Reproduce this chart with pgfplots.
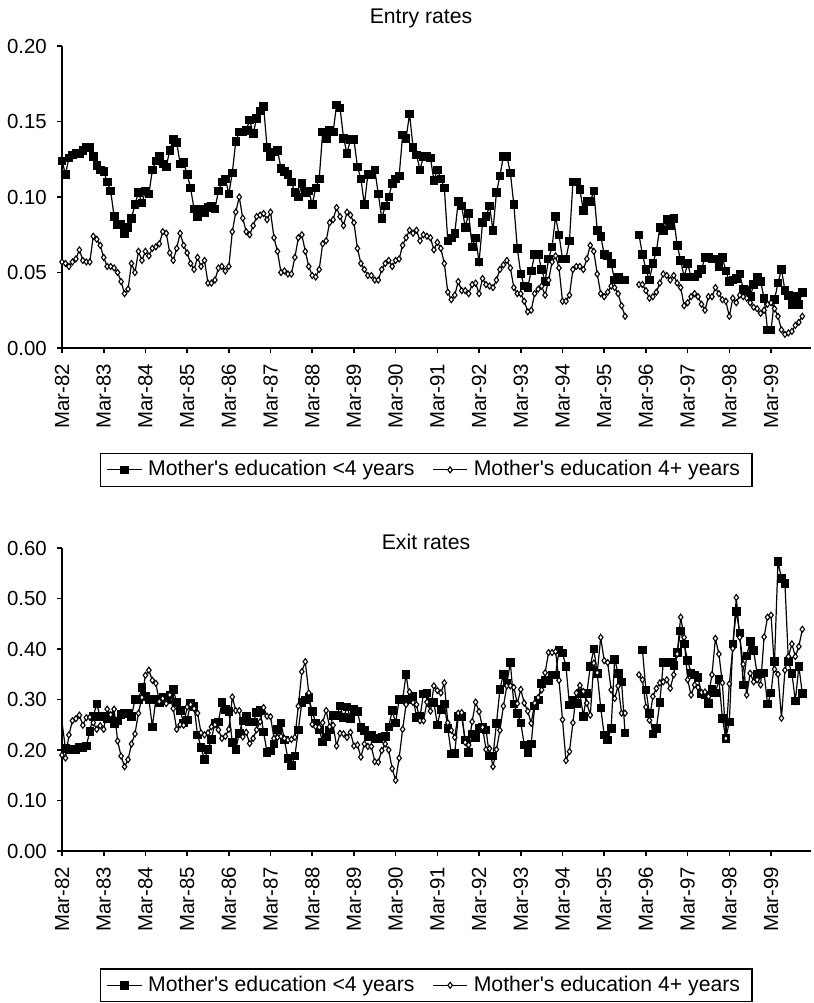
\documentclass[border=0pt]{standalone}
\usepackage{fontspec}
\setmainfont{Liberation Sans}
\usepackage{pgfplots}
\usepackage{pgfplotstable}
\pgfplotsset{compat=1.18}

% Monthly rates, Mar-82 (m = 0) to Dec-99 (m = 213)
% elo/ehi: entry rates, xlo/xhi: exit rates; lo = mother's education <4 years, hi = 4+ years
\pgfplotstableread{
m elo ehi xlo xhi
0 .124 .057 .255 .190
1 .115 .056 .203 .184
2 .126 .054 .200 .230
3 .128 .057 .201 .258
4 .129 .059 .201 .262
5 .129 .065 .205 .269
6 .131 .058 .205 .249
7 .133 .057 .208 .264
8 .133 .057 .237 .265
9 .127 .074 .267 .254
10 .121 .072 .291 .241
11 .118 .068 .266 .248
12 .117 .060 .267 .241
13 .110 .054 .263 .281
14 .104 .054 .267 .270
15 .087 .053 .252 .281
16 .082 .050 .258 .218
17 .082 .044 .271 .188
18 .076 .036 .273 .167
19 .080 .039 .273 .181
20 .086 .056 .267 .212
21 .095 .050 .300 .232
22 .103 .064 .300 .273
23 .096 .058 .324 .304
24 .104 .064 .306 .348
25 .102 .061 .300 .358
26 .118 .066 .246 .338
27 .124 .067 .300 .332
28 .127 .069 .294 .296
29 .122 .077 .304 .302
30 .120 .076 .299 .292
31 .131 .063 .309 .309
32 .138 .058 .320 .282
33 .136 .066 .294 .241
34 .122 .076 .278 .250
35 .123 .068 .254 .249
36 .115 .063 .260 .285
37 .106 .056 .292 .290
38 .092 .052 .286 .282
39 .087 .060 .230 .273
40 .092 .054 .205 .234
41 .090 .058 .181 .230
42 .093 .043 .201 .234
43 .094 .043 .221 .246
44 .092 .045 .254 .250
45 .104 .053 .256 .240
46 .110 .054 .294 .223
47 .112 .051 .281 .227
48 .102 .054 .276 .241
49 .116 .077 .215 .305
50 .137 .090 .201 .278
51 .143 .100 .233 .278
52 .143 .086 .258 .226
53 .144 .077 .267 .235
54 .151 .075 .256 .213
55 .142 .081 .256 .223
56 .152 .087 .274 .240
57 .157 .088 .278 .256
58 .160 .089 .236 .284
59 .133 .085 .195 .267
60 .127 .090 .198 .266
61 .130 .073 .212 .223
62 .131 .064 .241 .225
63 .119 .050 .254 .227
64 .117 .051 .220 .223
65 .115 .049 .183 .220
66 .110 .049 .170 .221
67 .103 .060 .188 .225
68 .100 .073 .240 .287
69 .109 .075 .294 .355
70 .103 .064 .299 .375
71 .104 .054 .304 .313
72 .095 .048 .276 .251
73 .106 .047 .254 .246
74 .112 .052 .240 .245
75 .143 .069 .216 .254
76 .139 .071 .226 .278
77 .144 .083 .240 .246
78 .143 .085 .269 .249
79 .161 .093 .269 .208
80 .159 .087 .287 .233
81 .139 .081 .264 .232
82 .129 .090 .285 .225
83 .138 .088 .263 .235
84 .138 .083 .281 .208
85 .120 .066 .276 .210
86 .112 .056 .245 .186
87 .095 .052 .239 .212
88 .115 .048 .227 .207
89 .115 .048 .229 .207
90 .118 .045 .223 .177
91 .102 .045 .223 .176
92 .086 .052 .226 .199
93 .094 .056 .227 .212
94 .100 .058 .246 .200
95 .109 .054 .278 .163
96 .112 .058 .254 .140
97 .114 .059 .300 .184
98 .141 .068 .300 .241
99 .139 .073 .350 .290
100 .155 .078 .300 .315
101 .133 .076 .306 .294
102 .128 .078 .264 .290
103 .118 .071 .266 .258
104 .127 .075 .311 .258
105 .127 .074 .313 .295
106 .126 .073 .294 .277
107 .111 .065 .294 .327
108 .118 .070 .250 .318
109 .112 .066 .281 .313
110 .106 .056 .291 .333
111 .071 .037 .243 .254
112 .073 .032 .192 .239
113 .076 .035 .193 .225
114 .097 .044 .266 .273
115 .094 .038 .266 .274
116 .080 .038 .220 .215
117 .089 .036 .195 .210
118 .067 .042 .232 .256
119 .073 .043 .225 .295
120 .057 .036 .243 .276
121 .083 .046 .246 .245
122 .087 .042 .240 .201
123 .094 .041 .188 .203
124 .078 .040 .188 .167
125 .103 .045 .253 .201
126 .114 .052 .320 .239
127 .127 .055 .350 .287
128 .127 .058 .333 .327
129 .116 .053 .373 .327
130 .095 .040 .291 .324
131 .066 .036 .273 .292
132 .049 .036 .254 .320
133 .041 .031 .210 .293
134 .040 .024 .195 .277
135 .051 .025 .212 .253
136 .062 .036 .287 .293
137 .062 .039 .299 .304
138 .052 .041 .332 .319
139 .044 .035 .338 .353
140 .059 .045 .338 .393
141 .067 .057 .349 .393
142 .087 .061 .349 .395
143 .075 .053 .398 .338
144 .059 .031 .392 .260
145 .059 .031 .366 .179
146 .071 .035 .289 .197
147 .110 .052 .299 .254
148 .110 .054 .292 .313
149 .105 .054 .312 .328
150 .091 .052 .267 .316
151 .097 .059 .312 .293
152 .097 .068 .366 .269
153 .104 .064 .400 .372
154 .078 .049 .352 .353
155 .074 .036 .283 .423
156 .062 .034 .230 .377
157 .061 .037 .220 .373
158 .056 .041 .243 .319
159 .045 .040 .380 .302
160 .047 .036 .352 .327
161 .045 .028 .335 .273
162 .045 .021 .234 .273
163 nan nan nan nan
164 nan nan nan nan
165 nan nan nan nan
166 .075 .042 .397 .349
167 .062 .042 .398 .339
168 .052 .038 .319 .285
169 .045 .033 .273 .259
170 .056 .034 .232 .306
171 .064 .037 .243 .322
172 .080 .043 .294 .333
173 .078 .049 .373 .335
174 .085 .048 .373 .339
175 .081 .045 .373 .322
176 .086 .048 .368 .349
177 .068 .043 .393 .390
178 .058 .040 .436 .463
179 .047 .028 .410 .423
180 .056 .030 .377 .339
181 .047 .034 .353 .309
182 .047 .036 .349 .329
183 .049 .034 .344 .324
184 .052 .029 .311 .314
185 .060 .025 .309 .315
186 .060 .034 .292 .306
187 .059 .034 .320 .349
188 .059 .040 .313 .421
189 .054 .036 .340 .390
190 .060 .032 .263 .333
191 .051 .031 .223 .223
192 .044 .021 .256 .331
193 .045 .033 .410 .401
194 .046 .030 .474 .502
195 .049 .035 .432 .423
196 .039 .034 .329 .370
197 .038 .033 .386 .309
198 .034 .030 .415 .352
199 .042 .027 .397 .335
200 .047 .026 .350 .339
201 .044 .023 .352 .329
202 .033 .025 .353 .424
203 .012 .029 .291 .463
204 .012 .030 .313 .467
205 .032 .026 .375 .360
206 .043 .021 .573 .350
207 .052 .012 .540 .263
208 .038 .009 .530 .358
209 .035 .010 .375 .385
210 .029 .011 .352 .410
211 .034 .015 .297 .385
212 .029 .017 .366 .405
213 .037 .021 .312 .439
}\rates

\newcommand{\tickfont}{\fontsize{10.2}{12.2}\selectfont}
\newcommand{\legfont}{\fontsize{10.6}{12.7}\selectfont}

\pgfplotsset{
  ratepanel/.style={
    scale only axis,
    width=374.5pt,
    xmin=0, xmax=215.5,
    axis x line*=bottom,
    axis y line*=left,
    axis line style={black, line width=0.8pt},
    tick align=outside,
    major tick length=2.4pt,
    every tick/.style={black, line width=0.8pt},
    xtick={0,12,...,204},
    xticklabels={Mar-82,Mar-83,Mar-84,Mar-85,Mar-86,Mar-87,Mar-88,Mar-89,Mar-90,
                 Mar-91,Mar-92,Mar-93,Mar-94,Mar-95,Mar-96,Mar-97,Mar-98,Mar-99},
    xticklabel style={rotate=90, anchor=east, font=\tickfont},
    xticklabel shift=2pt,
    yticklabel style={font=\tickfont, /pgf/number format/.cd, fixed, fixed zerofill, precision=2},
    yticklabel shift=1.5pt,
    /pgf/number format/assume math mode=true,
    unbounded coords=jump,
    clip=false,
    legend columns=2,
    legend style={font=\legfont, draw=black, line width=0.6pt,
                  inner xsep=3pt, inner ysep=1.5pt,
                  nodes={inner xsep=3pt, inner ysep=2pt},
                  /tikz/every even column/.append style={column sep=6pt}},
    legend cell align=left,
  },
  lowedu/.style={black, line width=0.6pt, mark=square*, mark size=1.9pt,
                 mark options={solid, fill=black, line width=0.4pt}},
  highedu/.style={black, line width=0.6pt, mark=diamond*, mark size=1.5pt,
                  mark options={solid, fill=white, draw=black, line width=0.55pt}},
}

\begin{document}
\legfont
\begin{tikzpicture}
\useasboundingbox (0pt,0pt) rectangle (407pt,501.5pt);

% Entry rates
\begin{axis}[ratepanel, at={(31pt,327.5pt)}, anchor=origin, height=151pt,
    ymin=0, ymax=0.2, ytick={0,0.05,0.1,0.15,0.2},
    legend style={at={(axis description cs:0.4866,-0.3477)}, anchor=north}]
  \addplot[lowedu] table[x=m, y=elo] {\rates};
  \addlegendentry{Mother\textquotesingle s education <4 years}
  \addplot[highedu] table[x=m, y=ehi] {\rates};
  \addlegendentry{Mother\textquotesingle s education 4+ years}
\end{axis}
\node at (210.5pt,492.5pt) {Entry rates};

% Exit rates (the first month carries no marker)
\begin{axis}[ratepanel, at={(31pt,76pt)}, anchor=origin, height=151.5pt,
    ymin=0, ymax=0.6, ytick={0,0.1,0.2,0.3,0.4,0.5,0.6},
    legend style={at={(axis description cs:0.4866,-0.3875)}, anchor=north}]
  \addplot[lowedu, mark indices={2,...,230},
           legend image post style={mark indices={2}}] table[x=m, y=xlo] {\rates};
  \addlegendentry{Mother\textquotesingle s education <4 years}
  \addplot[highedu] table[x=m, y=xhi] {\rates};
  \addlegendentry{Mother\textquotesingle s education 4+ years}
\end{axis}
\node at (213pt,230.6pt) {Exit rates};
\end{tikzpicture}
\end{document}
